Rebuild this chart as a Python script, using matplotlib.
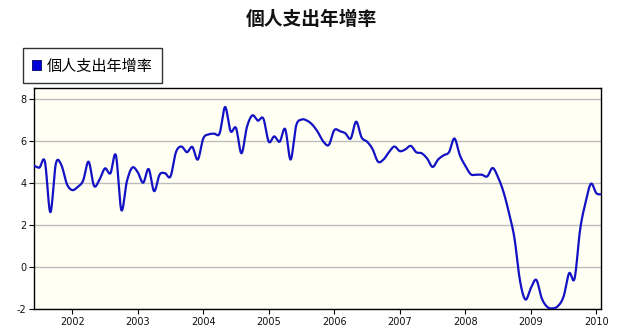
import numpy as np
import pandas as pd
import matplotlib
matplotlib.use("Agg")
import matplotlib.pyplot as plt
from matplotlib.patches import Patch

# Monthly year-over-year growth of personal spending (%), Jun 2001 - Feb 2010
series_name = "個人支出年增率"
start_month = "2001-06"
end_month = "2010-02"
growth = [
    4.80, 4.72, 5.00, 2.60, 4.90, 4.85, 3.95,                      # 2001 Jun-Dec
    3.65, 3.80, 4.10, 5.00, 3.85, 4.15, 4.68, 4.45, 5.30, 2.70, 4.05, 4.72,  # 2002
    4.50, 4.00, 4.65, 3.60, 4.38, 4.45, 4.30, 5.45, 5.72, 5.45, 5.70, 5.10,  # 2003
    6.10, 6.30, 6.33, 6.35, 7.60, 6.45, 6.60, 5.40, 6.65, 7.20, 6.95, 7.05,  # 2004
    5.95, 6.20, 5.95, 6.55, 5.10, 6.70, 7.00, 6.95, 6.75, 6.40, 5.95, 5.80,  # 2005
    6.50, 6.45, 6.35, 6.10, 6.90, 6.15, 5.95, 5.60, 5.00, 5.10, 5.45, 5.72,  # 2006
    5.50, 5.58, 5.75, 5.45, 5.40, 5.15, 4.75, 5.10, 5.30, 5.45, 6.10, 5.30,  # 2007
    4.80, 4.40, 4.38, 4.38, 4.30, 4.70, 4.25, 3.55, 2.55, 1.35, -0.65, -1.55,  # 2008
    -1.00, -0.62, -1.50, -1.90, -1.97, -1.85, -1.40, -0.30, -0.55, 1.75, 3.05, 3.95,  # 2009
    3.50, 3.45,                                                      # 2010 Jan-Feb
]
year_ticks = list(range(2002, 2011))
y_ticks = [-2, 0, 2, 4, 6, 8]

months = pd.date_range(start_month, end_month, freq="MS")
x = months.year + (months.month - 1) / 12.0
y = np.asarray(growth, dtype=float)


def catmull_rom(xs, ys, steps=16):
    """Smooth curve passing through every (xs, ys) point."""
    xs = np.asarray(xs, dtype=float)
    ys = np.asarray(ys, dtype=float)
    px = np.concatenate([[2 * xs[0] - xs[1]], xs, [2 * xs[-1] - xs[-2]]])
    py = np.concatenate([[ys[0]], ys, [ys[-1]]])
    t = np.linspace(0, 1, steps, endpoint=False)
    out_x, out_y = [], []
    for i in range(1, len(px) - 2):
        for p, out in ((px, out_x), (py, out_y)):
            p0, p1, p2, p3 = p[i - 1], p[i], p[i + 1], p[i + 2]
            out.append(0.5 * (2 * p1 + (-p0 + p2) * t
                              + (2 * p0 - 5 * p1 + 4 * p2 - p3) * t ** 2
                              + (-p0 + 3 * p1 - 3 * p2 + p3) * t ** 3))
    out_x.append([xs[-1]])
    out_y.append([ys[-1]])
    return np.concatenate(out_x), np.concatenate(out_y)


cjk = ["Noto Sans CJK TC", "DejaVu Sans"]
W, H = 621, 335
fig = plt.figure(figsize=(W / 100, H / 100), dpi=100)
fig.patch.set_facecolor("white")

L, R, T, B = 34, 601, 88, 309
ax = fig.add_axes([L / W, 1 - B / H, (R - L) / W, (B - T) / H])
ax.set_facecolor("#FFFFF3")

sx, sy = catmull_rom(x, y)
ax.plot(sx, sy, color="#1212C4", lw=1.6, solid_capstyle="round", zorder=3)

ax.set_xlim(2001.417, 2010.07)
ax.set_ylim(-2, 8.5)
ax.set_xticks(year_ticks)
ax.set_xticklabels([str(v) for v in year_ticks])
ax.set_yticks(y_ticks)
ax.set_yticklabels([str(v) for v in y_ticks])
ax.yaxis.grid(True, color="#BDBDBD", lw=1.0)
ax.set_axisbelow(True)
ax.tick_params(axis="both", labelsize=7, length=3.5, width=0.8,
               color="black", labelcolor="#111111", pad=2)
for s in ax.spines.values():
    s.set_color("black")
    s.set_linewidth(1.0)

fig.text(311.5 / W, 1 - 19 / H, series_name, ha="center", va="center",
         fontsize=13.5, fontweight="bold", family=cjk, color="#111111")

handle = Patch(facecolor="#0000D8", edgecolor="#000060", linewidth=0.6)
leg = fig.legend([handle], [series_name], loc="upper left",
                 bbox_to_anchor=(22.6 / W, 1 - 48.3 / H),
                 bbox_transform=fig.transFigure,
                 prop={"family": cjk, "size": 10.9},
                 frameon=True, fancybox=False, shadow=False,
                 borderpad=0.6, handlelength=0.6, handleheight=0.6,
                 handletextpad=0.4, borderaxespad=0.0)
leg.get_frame().set_edgecolor("black")
leg.get_frame().set_linewidth(1.0)
leg.get_frame().set_facecolor("white")

fig.savefig("out.png", dpi=100)
